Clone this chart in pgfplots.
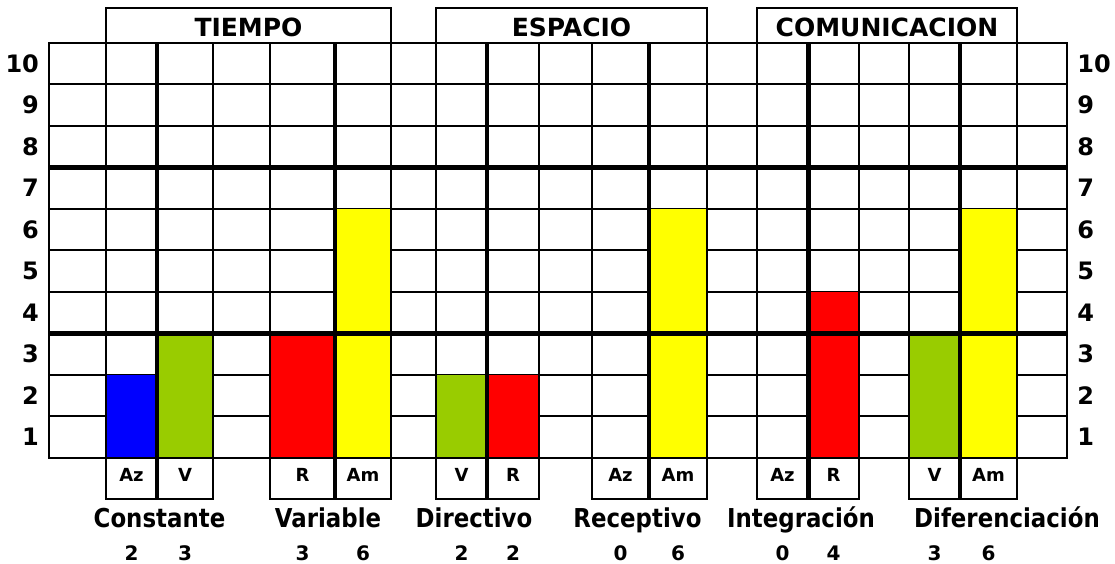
\documentclass[border=0pt]{standalone}
\usepackage{fontspec}
\setmainfont{DejaVu Sans}
\newfontfamily\namefont[FakeStretch=0.88]{DejaVu Sans}
\usepackage{pgfplots}
\pgfplotsset{compat=1.18}

\definecolor{cAz}{HTML}{0000FF}
\definecolor{cV}{HTML}{99CC00}
\definecolor{cR}{HTML}{FF0000}
\definecolor{cAm}{HTML}{FFFF00}

\newcommand\headf{\fontsize{12.5}{14}\selectfont\bfseries}
\newcommand\tickf{\fontsize{12}{14}\selectfont\bfseries}
\newcommand\namef{\namefont\fontsize{13}{15}\selectfont\bfseries}
\newcommand\smlf{\fontsize{9}{10}\selectfont\bfseries}
\newcommand\valf{\fontsize{10}{11}\selectfont\bfseries}

\begin{document}
\begin{tikzpicture}
\begin{axis}[
  scale only axis, width=509pt, height=207.5pt,
  xmin=49, xmax=1067, ymin=0, ymax=10,
  clip=false,
  xtick=\empty,
  ytick={0.5,1.5,...,9.5},
  yticklabels={1,2,3,4,5,6,7,8,9,10},
  minor ytick={1,...,9},
  yminorgrids=true, ymajorgrids=false,
  minor grid style={black, line width=1pt},
  major tick length=0pt, minor tick length=0pt,
  axis line style={line width=1pt},
  yticklabel style={font=\tickf, xshift=-1.5pt},
]
% bars: (left edge, value) (right edge, value)
\addplot[fill=cAz, draw=none] coordinates {(106,2) (157,2)} \closedcycle;
\addplot[fill=cV,  draw=none] coordinates {(157,3) (213,3)} \closedcycle;
\addplot[fill=cR,  draw=none] coordinates {(270,3) (335,3)} \closedcycle;
\addplot[fill=cAm, draw=none] coordinates {(335,6) (391,6)} \closedcycle;
\addplot[fill=cV,  draw=none] coordinates {(436,2) (487,2)} \closedcycle;
\addplot[fill=cR,  draw=none] coordinates {(487,2) (539,2)} \closedcycle;
\addplot[fill=cAz, draw=none] coordinates {(592,0) (649,0)} \closedcycle;
\addplot[fill=cAm, draw=none] coordinates {(649,6) (707,6)} \closedcycle;
\addplot[fill=cAz, draw=none] coordinates {(757,0) (808.5,0)} \closedcycle;
\addplot[fill=cR,  draw=none] coordinates {(808.5,4) (859,4)} \closedcycle;
\addplot[fill=cV,  draw=none] coordinates {(909,3) (960,3)} \closedcycle;
\addplot[fill=cAm, draw=none] coordinates {(960,6) (1017,6)} \closedcycle;

% thin vertical lines
\pgfplotsinvokeforeach{106,213,270,391,436,539,592,707,757,859,909,1017}{
  \draw[line width=1pt] (axis cs:#1,0) -- (axis cs:#1,10);
}
% frame
\draw[line width=1pt] (axis cs:49,0) rectangle (axis cs:1067,10);
% thick lines
\draw[line width=2.4pt] (axis cs:49,3) -- (axis cs:1067,3);
\draw[line width=2.4pt] (axis cs:49,7) -- (axis cs:1067,7);
\pgfplotsinvokeforeach{157,335,487,649,808.5,960}{
  \draw[line width=2.4pt] (axis cs:#1,-1) -- (axis cs:#1,10);
}

% header boxes
\draw[line width=1pt] (axis cs:106,10) -- (axis cs:106,10.843) -- (axis cs:391,10.843) -- (axis cs:391,10);
\draw[line width=1pt] (axis cs:436,10) -- (axis cs:436,10.843) -- (axis cs:707,10.843) -- (axis cs:707,10);
\draw[line width=1pt] (axis cs:757,10) -- (axis cs:757,10.843) -- (axis cs:1017,10.843) -- (axis cs:1017,10);
\node[font=\headf, anchor=base, inner sep=0pt] at (axis cs:248.5,10.152) {TIEMPO};
\node[font=\headf, anchor=base, inner sep=0pt] at (axis cs:571.5,10.152) {ESPACIO};
\node[font=\headf, anchor=base, inner sep=0pt] at (axis cs:887,10.152) {COMUNICACION};

% bottom label boxes
\draw[line width=1pt] (axis cs:106,0) -- (axis cs:106,-1) -- (axis cs:213,-1) -- (axis cs:213,0);
\draw[line width=1pt] (axis cs:270,0) -- (axis cs:270,-1) -- (axis cs:391,-1) -- (axis cs:391,0);
\draw[line width=1pt] (axis cs:436,0) -- (axis cs:436,-1) -- (axis cs:539,-1) -- (axis cs:539,0);
\draw[line width=1pt] (axis cs:592,0) -- (axis cs:592,-1) -- (axis cs:707,-1) -- (axis cs:707,0);
\draw[line width=1pt] (axis cs:757,0) -- (axis cs:757,-1) -- (axis cs:859,-1) -- (axis cs:859,0);
\draw[line width=1pt] (axis cs:909,0) -- (axis cs:909,-1) -- (axis cs:1017,-1) -- (axis cs:1017,0);
\tikzset{sl/.style={font=\smlf, anchor=base, inner sep=0pt}}
\node[sl] at (axis cs:131.5,-0.571) {Az};
\node[sl] at (axis cs:185,-0.571) {V};
\node[sl] at (axis cs:302.5,-0.571) {R};
\node[sl] at (axis cs:363,-0.571) {Am};
\node[sl] at (axis cs:461.5,-0.571) {V};
\node[sl] at (axis cs:513,-0.571) {R};
\node[sl] at (axis cs:620.5,-0.571) {Az};
\node[sl] at (axis cs:678,-0.571) {Am};
\node[sl] at (axis cs:782.5,-0.571) {Az};
\node[sl] at (axis cs:833.5,-0.571) {R};
\node[sl] at (axis cs:934.5,-0.571) {V};
\node[sl] at (axis cs:988.5,-0.571) {Am};

% category names
\tikzset{nl/.style={font=\namef, anchor=base, inner sep=0pt}}
\node[nl] at (axis cs:159.5,-1.68) {Constante};
\node[nl] at (axis cs:328,-1.68) {Variable};
\node[nl] at (axis cs:474,-1.68) {Directivo};
\node[nl] at (axis cs:637.5,-1.68) {Receptivo};
\node[nl] at (axis cs:801,-1.68) {Integración};
\node[nl] at (axis cs:1007,-1.68) {Diferenciación};

% values
\tikzset{vl/.style={font=\valf, anchor=base, inner sep=0pt}}
\node[vl] at (axis cs:131.5,-2.482) {2};
\node[vl] at (axis cs:185,-2.482) {3};
\node[vl] at (axis cs:302.5,-2.482) {3};
\node[vl] at (axis cs:363,-2.482) {6};
\node[vl] at (axis cs:461.5,-2.482) {2};
\node[vl] at (axis cs:513,-2.482) {2};
\node[vl] at (axis cs:620.5,-2.482) {0};
\node[vl] at (axis cs:678,-2.482) {6};
\node[vl] at (axis cs:782.5,-2.482) {0};
\node[vl] at (axis cs:833.5,-2.482) {4};
\node[vl] at (axis cs:934.5,-2.482) {3};
\node[vl] at (axis cs:988.5,-2.482) {6};

% right-hand row labels
\tikzset{rl/.style={font=\tickf, anchor=west, inner sep=0pt}}
\node[rl] at (axis cs:1077,0.5) {1};
\node[rl] at (axis cs:1077,1.5) {2};
\node[rl] at (axis cs:1077,2.5) {3};
\node[rl] at (axis cs:1077,3.5) {4};
\node[rl] at (axis cs:1077,4.5) {5};
\node[rl] at (axis cs:1077,5.5) {6};
\node[rl] at (axis cs:1077,6.5) {7};
\node[rl] at (axis cs:1077,7.5) {8};
\node[rl] at (axis cs:1077,8.5) {9};
\node[rl] at (axis cs:1077,9.5) {10};

\coordinate (bbl) at (axis cs:0,-2.554);
\coordinate (btr) at (axis cs:1115,11.036);
\end{axis}
\pgfresetboundingbox
\path[use as bounding box] (bbl) rectangle (btr);
\end{tikzpicture}
\end{document}
